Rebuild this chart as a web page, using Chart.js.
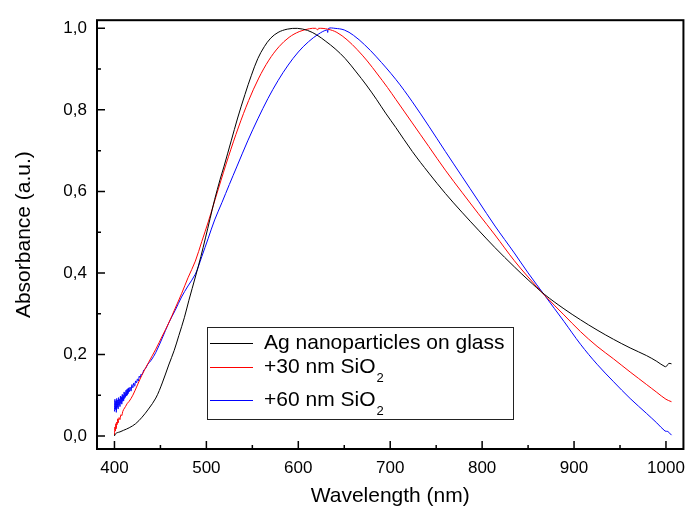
<!DOCTYPE html>
<html>
<head>
<meta charset="utf-8">
<title>Absorbance spectra</title>
<script src="https://cdn.jsdelivr.net/npm/chart.js@4.4.0/dist/chart.umd.min.js"></script>
<style>
  html, body { margin: 0; padding: 0; background: #fff; }
</style>
</head>
<body>
<canvas id="myChart" width="694" height="512"></canvas>
<script>
// Normalised absorbance spectra
const agWavelength = [400, 401, 403, 406, 410, 416, 423, 430, 437, 445, 452, 459, 465, 470, 476, 481, 488, 494, 499, 504, 509, 515, 519, 527, 534, 542, 549, 556, 563, 570, 578, 588, 599, 610, 620, 630, 640, 651, 663, 674, 685, 695, 706, 724, 742, 760, 778, 796, 814, 835, 850, 868, 889, 907, 925, 943, 961, 979, 990, 999, 1001, 1003, 1006];
const agAbsorbance = [0.0, 0.005, 0.008, 0.01, 0.014, 0.02, 0.03, 0.046, 0.066, 0.093, 0.13, 0.174, 0.21, 0.246, 0.29, 0.333, 0.39, 0.44, 0.486, 0.533, 0.58, 0.63, 0.66, 0.724, 0.78, 0.838, 0.885, 0.926, 0.955, 0.976, 0.99, 0.998, 1.0, 0.995, 0.984, 0.968, 0.95, 0.926, 0.893, 0.861, 0.826, 0.792, 0.757, 0.698, 0.645, 0.595, 0.549, 0.505, 0.462, 0.415, 0.383, 0.347, 0.312, 0.285, 0.26, 0.237, 0.216, 0.197, 0.183, 0.17, 0.172, 0.178, 0.177];

const sio30Wavelength = [400, 400.5, 401, 401.5, 402, 402.5, 403, 403.5, 404, 405, 406, 407, 408, 409, 410, 412, 414, 416, 420, 425, 430, 437, 445, 452, 459, 466, 473, 480, 488, 495, 502, 513, 524, 535, 546, 557, 568, 579, 590, 601, 612, 619, 621, 622, 632, 642, 653, 664, 675, 686, 697, 706, 724, 742, 760, 778, 796, 814, 835, 850, 868, 889, 907, 925, 943, 961, 979, 990, 1000, 1006];
const sio30Absorbance = [0.002, 0.022, 0.012, 0.03, 0.018, 0.034, 0.028, 0.042, 0.032, 0.045, 0.04, 0.052, 0.05, 0.06, 0.065, 0.072, 0.08, 0.085, 0.1, 0.125, 0.15, 0.18, 0.213, 0.245, 0.277, 0.313, 0.349, 0.388, 0.429, 0.477, 0.525, 0.606, 0.685, 0.758, 0.823, 0.878, 0.922, 0.955, 0.978, 0.992, 0.999, 1.0, 0.996, 1.0, 0.998, 0.99, 0.972, 0.948, 0.92, 0.888, 0.855, 0.826, 0.768, 0.71, 0.652, 0.598, 0.545, 0.493, 0.43, 0.39, 0.345, 0.297, 0.256, 0.22, 0.189, 0.157, 0.126, 0.107, 0.09, 0.084];

const sio60Wavelength = [400, 400.5, 401, 401.5, 402, 402.5, 403, 403.5, 404, 404.5, 405, 405.5, 406, 406.5, 407, 407.5, 408, 408.5, 409, 409.5, 410, 410.5, 411, 411.5, 412, 412.5, 413, 413.5, 414, 414.5, 415, 415.5, 416, 417, 418, 419, 420, 421, 422, 423, 424, 425, 426, 427, 428, 429, 430, 432, 434, 436, 440, 445, 452, 459, 466, 473, 480, 488, 495, 502, 509, 517, 525, 533, 545, 556, 567, 578, 589, 600, 611, 622, 631, 632, 633, 640, 650, 660, 672, 685, 706, 724, 742, 760, 778, 796, 814, 835, 850, 868, 889, 907, 925, 943, 961, 979, 990, 999, 1002, 1006];
const sio60Absorbance = [0.06, 0.09, 0.065, 0.085, 0.058, 0.092, 0.07, 0.088, 0.066, 0.094, 0.075, 0.09, 0.072, 0.098, 0.08, 0.096, 0.078, 0.102, 0.085, 0.1, 0.086, 0.108, 0.092, 0.106, 0.095, 0.112, 0.098, 0.114, 0.1, 0.116, 0.104, 0.118, 0.108, 0.12, 0.11, 0.126, 0.118, 0.13, 0.122, 0.135, 0.13, 0.14, 0.135, 0.147, 0.143, 0.152, 0.15, 0.162, 0.166, 0.175, 0.186, 0.205, 0.24, 0.277, 0.308, 0.341, 0.368, 0.397, 0.44, 0.485, 0.53, 0.573, 0.617, 0.66, 0.724, 0.778, 0.828, 0.872, 0.91, 0.942, 0.967, 0.986, 0.996, 0.99, 1.0, 1.0, 0.996, 0.983, 0.96, 0.93, 0.875, 0.82, 0.76, 0.698, 0.637, 0.576, 0.515, 0.449, 0.4, 0.345, 0.281, 0.225, 0.176, 0.133, 0.092, 0.055, 0.032, 0.012, 0.011, 0.002];

const seriesLabels = ["Ag nanoparticles on glass", "+30 nm SiO", "+60 nm SiO"];
const seriesSubscripts = ["", "2", "2"];
const seriesColors = ["#000000", "#ff0000", "#0000ff"];

const xMajorTicks = [400, 500, 600, 700, 800, 900, 1000];
const xMinorTicks = [450, 550, 650, 750, 850, 950];
const yMajorTicks = [0, 0.2, 0.4, 0.6, 0.8, 1.0];
const yMinorTicks = [0.1, 0.3, 0.5, 0.7, 0.9];

const FONT = "'Liberation Sans', Arial, sans-serif";

const toPoints = (xs, ys) => xs.map((x, i) => ({ x: x, y: ys[i] }));

// inward tick marks and the closed frame round the plot
const frameAndTicks = {
  id: "frameAndTicks",
  afterDatasetsDraw(chart) {
    const { ctx, chartArea: a, scales } = chart;
    ctx.save();
    ctx.strokeStyle = "#000";
    ctx.lineWidth = 1.5;
    ctx.beginPath();
    const xTick = (v, len) => {
      const px = scales.x.getPixelForValue(v);
      ctx.moveTo(px, a.bottom);
      ctx.lineTo(px, a.bottom - len);
    };
    const yTick = (v, len) => {
      const py = scales.y.getPixelForValue(v);
      ctx.moveTo(a.left, py);
      ctx.lineTo(a.left + len, py);
    };
    xMajorTicks.forEach((v) => xTick(v, 8));
    xMinorTicks.forEach((v) => xTick(v, 4));
    yMajorTicks.forEach((v) => yTick(v, 8));
    yMinorTicks.forEach((v) => yTick(v, 4));
    ctx.stroke();
    ctx.lineWidth = 2;
    ctx.strokeRect(a.left, a.top, a.right - a.left, a.bottom - a.top);
    ctx.restore();
  },
};

// boxed legend inside the plot, with subscripts
const legendBox = {
  id: "legendBox",
  afterDraw(chart) {
    const { ctx } = chart;
    const left = 207, top = 327, width = 306, height = 92;
    const rows = [343, 367, 400];
    ctx.save();
    ctx.fillStyle = "#fff";
    ctx.fillRect(left, top, width, height);
    ctx.strokeStyle = "#222";
    ctx.lineWidth = 1;
    ctx.strokeRect(left + 0.5, top + 0.5, width, height);
    chart.data.datasets.forEach((ds, i) => {
      const y = rows[i];
      ctx.strokeStyle = ds.borderColor;
      ctx.lineWidth = 1;
      ctx.beginPath();
      ctx.moveTo(210, y + 0.5);
      ctx.lineTo(253, y + 0.5);
      ctx.stroke();
      ctx.fillStyle = "#000";
      ctx.textBaseline = "middle";
      ctx.font = "21px " + FONT;
      ctx.fillText(seriesLabels[i], 264, y);
      if (seriesSubscripts[i]) {
        const w = ctx.measureText(seriesLabels[i]).width;
        ctx.font = "13px " + FONT;
        ctx.fillText(seriesSubscripts[i], 264 + w + 1, y + 11);
      }
    });
    ctx.restore();
  },
};

const ctx = document.getElementById("myChart").getContext("2d");
new Chart(ctx, {
  type: "line",
  data: {
    datasets: [
      { label: seriesLabels[0], data: toPoints(agWavelength, agAbsorbance) },
      { label: seriesLabels[1] + seriesSubscripts[1], data: toPoints(sio30Wavelength, sio30Absorbance) },
      { label: seriesLabels[2] + seriesSubscripts[2], data: toPoints(sio60Wavelength, sio60Absorbance) },
    ].map((ds, i) => ({
      ...ds,
      borderColor: seriesColors[i],
      borderWidth: 1,
      pointRadius: 0,
      fill: false,
      tension: 0.35,
    })),
  },
  options: {
    responsive: false,
    animation: false,
    layout: { padding: { top: 10, right: 4, left: 0, bottom: 0 } },
    plugins: {
      legend: { display: false },
      tooltip: { enabled: false },
    },
    scales: {
      x: {
        type: "linear",
        min: 381,
        max: 1019,
        afterBuildTicks: (scale) => {
          scale.ticks = xMajorTicks.map((v) => ({ value: v }));
        },
        afterFit: (scale) => {
          scale.height = 63;
        },
        grid: { display: false, drawTicks: false },
        border: { display: false },
        ticks: {
          padding: 9,
          color: "#000",
          autoSkip: false,
          maxRotation: 0,
          font: { family: FONT, size: 17 },
          callback: (v) => String(v),
        },
        title: {
          display: true,
          text: "Wavelength (nm)",
          color: "#000",
          font: { family: FONT, size: 21 },
          padding: { top: 0, bottom: 3 },
        },
      },
      y: {
        type: "linear",
        min: -0.032,
        max: 1.02,
        afterBuildTicks: (scale) => {
          scale.ticks = yMajorTicks.map((v) => ({ value: v }));
        },
        afterFit: (scale) => {
          scale.width = 97;
        },
        grid: { display: false, drawTicks: false },
        border: { display: false },
        ticks: {
          padding: 10,
          color: "#000",
          font: { family: FONT, size: 17 },
          callback: (v) => v.toFixed(1).replace(".", ","),
        },
        title: {
          display: true,
          text: "Absorbance (a.u.)",
          color: "#000",
          font: { family: FONT, size: 21 },
          padding: { top: 12, bottom: 0 },
        },
      },
    },
  },
  plugins: [frameAndTicks, legendBox],
});
</script>
</body>
</html>
